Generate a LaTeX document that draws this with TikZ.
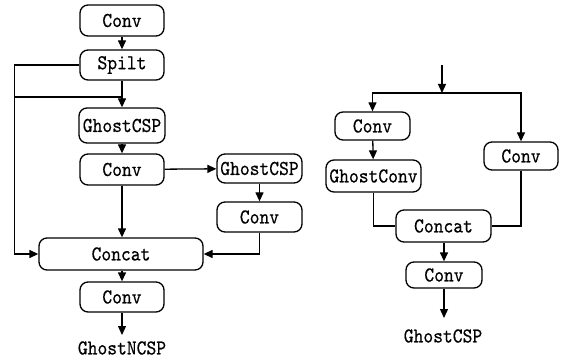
\documentclass[tikz,border=0pt]{standalone}
\usepackage{fontspec}
\newfontfamily\boxfont{lmmono10-regular.otf}[FakeStretch=0.88, FakeBold=0.5]
\usepackage{tikz}
\usetikzlibrary{arrows.meta}

\tikzset{
  blk/.style={draw, rounded corners=4pt, line width=0.65pt, inner sep=0pt,
    font=\boxfont\fontsize{10.6}{12}\selectfont},
  lnk/.style={line width=0.65pt},
  arr/.style={lnk, -{Triangle[length=4.5pt,width=4pt]}},
  lbl/.style={inner sep=0pt, font=\boxfont\fontsize{10.6}{12}\selectfont}
}

\begin{document}
\begin{tikzpicture}[x=0.5pt, y=-0.5pt]
        \useasboundingbox (0,0) rectangle (568,358);

        % GhostNCSP (left)
        \node[blk, minimum width=42pt, minimum height=15.5pt] (conva) at (122,20.5) {Conv};
        \node[blk, minimum width=42pt, minimum height=15pt] (spilt) at (122,65) {Spilt};
        \node[blk, minimum width=43pt, minimum height=17.5pt] (gcspa) at (122,125.5) {GhostCSP};
        \node[blk, minimum width=42pt, minimum height=15.5pt] (convb) at (122,169.5) {Conv};
        \node[blk, minimum width=42.5pt, minimum height=14.5pt] (gcspb) at (259.5,168.5) {GhostCSP};
        \node[blk, minimum width=42.5pt, minimum height=15pt] (convc) at (259.5,217) {Conv};
        \node[blk, minimum width=82pt, minimum height=16pt] (cata) at (121,254) {Concat};
        \node[blk, minimum width=42pt, minimum height=15pt] (convd) at (122,297) {Conv};
        \node[lbl] (ncsp) at (122,348) {GhostNCSP};
        \coordinate (bus) at (15,97);
        \coordinate (outa) at (122,335);

        \draw[arr] (conva) -- (spilt);
        \draw[arr] (spilt) -- (gcspa);
        \draw[lnk] (bus) -- (bus -| spilt.south);
        \draw[arr] (spilt.west) -- ++(-65,0) |- (cata.west);
        \draw[arr] (gcspa) -- (convb);
        \draw[arr] (convb) -- (gcspb);
        \draw[arr] (gcspb) -- (convc);
        \draw[arr] (convb) -- (convb |- cata.north);
        \draw[arr] (convc.south) |- (cata.east);
        \draw[arr] (cata.south -| convd.north) -- (convd);
        \draw[arr] (convd) -- (outa);

        % GhostCSP (right)
        \node[blk, minimum width=37.5pt, minimum height=14pt] (conve) at (372.5,126) {Conv};
        \node[blk, minimum width=47.5pt, minimum height=16pt] (gconv) at (373.5,176) {GhostConv};
        \node[blk, minimum width=37pt, minimum height=14pt] (convf) at (521,156) {Conv};
        \node[blk, minimum width=47.5pt, minimum height=16pt] (catb) at (443.5,226) {Concat};
        \node[blk, minimum width=38pt, minimum height=13pt] (convg) at (444,275) {Conv};
        \node[lbl] (csp) at (443,336) {GhostCSP};
        \coordinate (inb) at (442,65);
        \coordinate (fork) at (442,93);
        \coordinate (outb) at (444,318);

        \draw[arr] (inb) -- (fork);
        \draw[arr] (fork) -| (conve.north);
        \draw[arr] (fork) -| (convf.north);
        \draw[arr] (conve) -- (gconv);
        \draw[lnk] (gconv.south) |- (catb.west);
        \draw[lnk] (convf.south) |- (catb.east);
        \draw[arr] (catb.south -| convg.north) -- (convg.north);
        \draw[arr] (convg) -- (outb);

\end{tikzpicture}
\end{document}
